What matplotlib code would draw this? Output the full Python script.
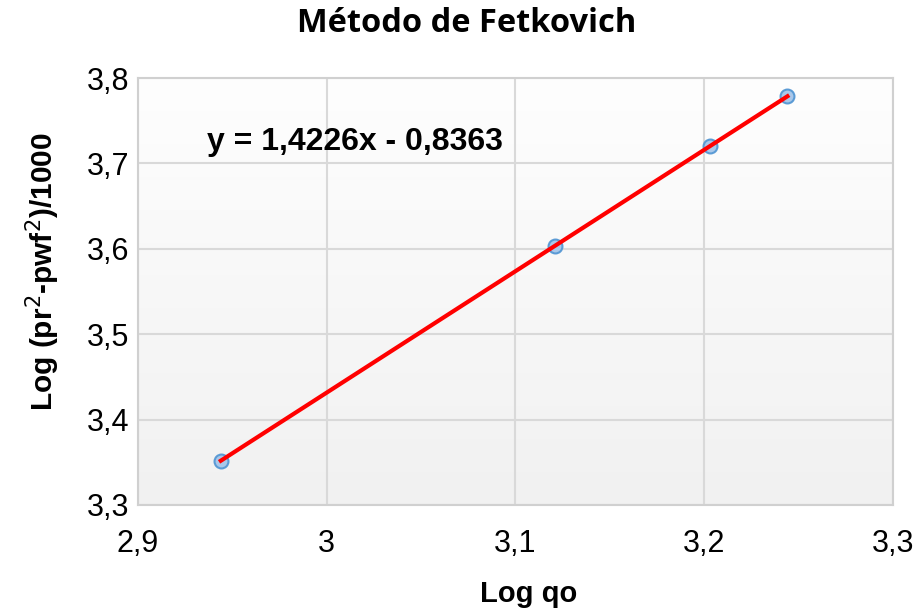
import numpy as np
import matplotlib.pyplot as plt
from matplotlib.colors import LinearSegmentedColormap
from matplotlib.ticker import FuncFormatter

# Fetkovich data points
log_qo = [2.944, 3.121, 3.203, 3.244]
log_dp = [3.352, 3.603, 3.720, 3.779]
slope = 1.4226
intercept = -0.8363
x_ticks = [2.9, 3.0, 3.1, 3.2, 3.3]
y_ticks = [3.3, 3.4, 3.5, 3.6, 3.7, 3.8]

fig = plt.figure(figsize=(9.18, 6.11), dpi=100)
ax = fig.add_axes([0.150, 0.1735, 0.823, 0.6988])

# soft vertical gradient in the plot area
grad = np.linspace(1.0, 0.0, 256).reshape(-1, 1)
cmap = LinearSegmentedColormap.from_list('g', ['#f1f1f1', '#fefefe'])
ax.imshow(grad, extent=[0, 1, 0, 1], transform=ax.transAxes, aspect='auto',
          cmap=cmap, zorder=0)

ax.set_xlim(2.9, 3.3)
ax.set_ylim(3.3, 3.8)
ax.set_xticks(x_ticks)
ax.set_yticks(y_ticks)
fmt = FuncFormatter(lambda v, p: ('%g' % round(v, 2)).replace('.', ','))
ax.xaxis.set_major_formatter(fmt)
ax.yaxis.set_major_formatter(fmt)
ax.grid(True, color='#d9d9d9', linewidth=1.5, zorder=1)
for s in ax.spines.values():
    s.set_color('#d0d0d0')
    s.set_linewidth(1.5)
ax.tick_params(length=0, labelsize=22)
ax.tick_params(axis='x', pad=17)
ax.tick_params(axis='y', pad=6)
for lab in ax.get_xticklabels() + ax.get_yticklabels():
    lab.set_fontfamily('Liberation Sans')

xfit = np.array([min(log_qo), max(log_qo)])
ax.plot(log_qo, log_dp, 'o', markersize=10, markerfacecolor='#a9c8ea',
        markeredgecolor='#5b9bd5', markeredgewidth=1.5, zorder=3)
ax.plot(xfit, slope * xfit + intercept, color='#ff0000', linewidth=3, zorder=4)

ax.text(2.9366, 3.725, 'y = 1,4226x - 0,8363', fontsize=23, fontweight='bold',
        family='Liberation Sans', va='center', ha='left', zorder=5)

fig.text(0.508, 0.962, 'Método de Fetkovich', fontsize=23.5, fontweight='bold',
         family='Open Sans', ha='center', va='center')
ax.set_xlabel('Log qo', fontsize=21, fontweight='bold', family='Liberation Sans', labelpad=16)
ax.set_ylabel('Log (pr$^2$-pwf$^2$)/1000', fontsize=21.5, fontweight='bold',
              family='Liberation Sans', labelpad=18)
ax.xaxis.set_label_coords(0.517, -0.175)
ax.yaxis.label.set_y(0.546)

fig.savefig('out.png', dpi=100)
